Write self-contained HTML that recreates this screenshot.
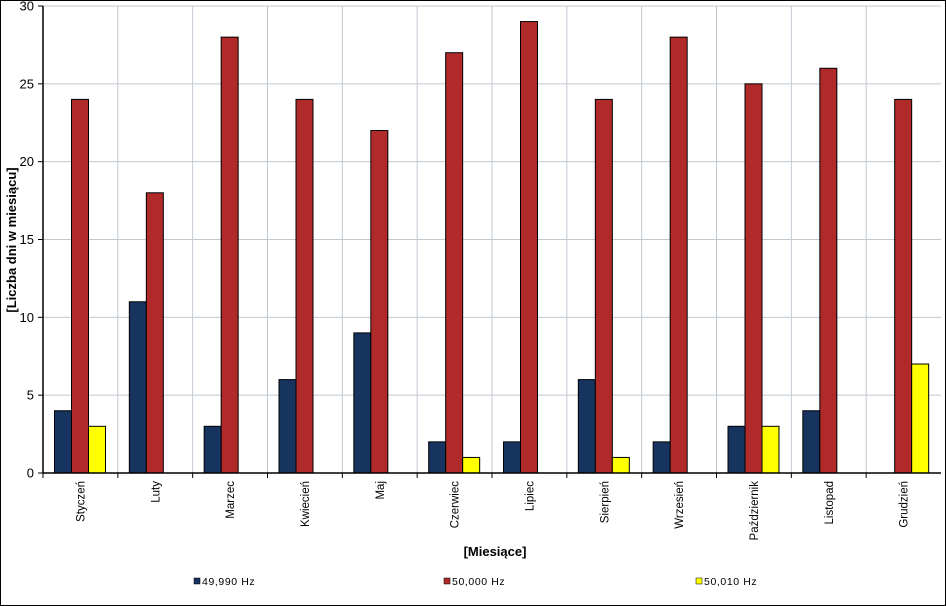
<!DOCTYPE html>
<html><head><meta charset="utf-8"><style>
html,body{margin:0;padding:0;background:#fff}
svg{display:block;font-family:"Liberation Sans",Arial,sans-serif}
</style></head><body>
<svg id="chart" width="946" height="606" viewBox="0 0 946 606">
<rect x="0.5" y="0.5" width="945" height="605" fill="#fff" stroke="#000"/>
<g id="grid"></g><g id="bars"></g><g id="axes"></g>
<text transform="translate(16,240) rotate(-90)" text-anchor="middle" font-size="13" font-weight="bold">[Liczba  dni w miesiącu]</text>
<text x="495" y="556" text-anchor="middle" font-size="13" font-weight="bold">[Miesiące]</text>
<g id="legend"></g>
</svg>
<script>
const categories=["Styczeń","Luty","Marzec","Kwiecień","Maj","Czerwiec","Lipiec","Sierpień","Wrzesień","Październik","Listopad","Grudzień"];
const s49990=[4,11,3,6,9,2,2,6,2,3,4,0];
const s50000=[24,18,28,24,22,27,29,24,28,25,26,24];
const s50010=[3,0,0,0,0,1,0,1,0,3,0,7];
const seriesNames=["49,990 Hz","50,000 Hz","50,010 Hz"];
const yTicks=[0,5,10,15,20,25,30];
const colors=["#17335F","#B02A2A","#FFFF00"];
const NS="http://www.w3.org/2000/svg";
const X0=43,X1=941,Y0=473,Y1=6,YMAX=30;
const cw=(X1-X0)/categories.length;
const y=v=>Y0-(Y0-Y1)*v/YMAX;
function mk(tag,attrs,parent){const e=document.createElementNS(NS,tag);for(const k in attrs)e.setAttribute(k,attrs[k]);parent.appendChild(e);return e;}
const grid=document.getElementById('grid'),bars=document.getElementById('bars'),axes=document.getElementById('axes'),legend=document.getElementById('legend');
yTicks.forEach(t=>{
 if(t>0){const l=mk('line',{x1:X0,x2:X1,y1:y(t),y2:y(t),stroke:'#C0C8D0'},grid);
 
 }
 const tk=mk('line',{x1:X0-5,x2:X0,y1:y(t),y2:y(t),stroke:'#000'},axes);
 
 
 const tx=mk('text',{x:X0-9,y:y(t)+4.5,'text-anchor':'end','font-size':'13'},axes);tx.textContent=t;
 
 
});
categories.forEach((c,i)=>{
 const gx=X0+cw*(i+1);
 if(i<categories.length-1){const g=mk('line',{x1:gx,x2:gx,y1:Y1,y2:Y0,stroke:'#C0C8D0'},grid);
 
 }
 const tk=mk('line',{x1:X0+cw*i,x2:X0+cw*i,y1:Y0,y2:Y0+5,stroke:'#000'},axes);
 
 
 const cx=X0+cw*i+cw/2;
 const lb=mk('text',{transform:`translate(${cx+4},481) rotate(-90)`,'text-anchor':'end','font-size':'11.5',fill:'#000'},axes);lb.textContent=c;
 
 
 [s49990,s50000,s50010].forEach((s,k)=>{
  const v=s[i]; if(v<=0) return;
  const bx=X0+cw*i+11.5+k*17;
  const r=mk('rect',{x:bx,y:y(v),width:17,height:Y0-y(v),fill:colors[k],stroke:'#000','stroke-width':1},bars);
  
  
 });
});
const ax=mk('path',{d:`M${X0},${Y1} V${Y0} H${X1}`,fill:'none',stroke:'#000','stroke-width':1.5},axes);


const lx=[194,444,696];
seriesNames.forEach((n,k)=>{
 const g=mk('g',{},legend);
 
 
 mk('rect',{x:lx[k],y:578,width:6,height:6,fill:colors[k],stroke:'#000','stroke-width':0.5},g);
 const t=mk('text',{x:lx[k]+8,y:585,'font-size':'10.5','letter-spacing':'0.6'},g);t.textContent=n;
});
</script>
</body></html>
